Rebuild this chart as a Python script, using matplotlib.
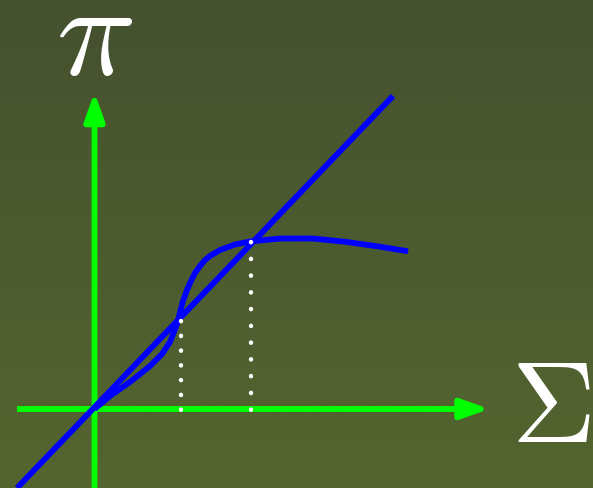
import matplotlib
matplotlib.use("Agg")
import matplotlib.pyplot as plt
from matplotlib.colors import LinearSegmentedColormap
import numpy as np

plt.rcParams["mathtext.fontset"] = "cm"

# straight line (y ~ x) through the origin
line_x = [-0.775, 2.985]
line_y = [-0.79, 3.13]

# the S-shaped curve
curve_x = [0, 0.155, 0.355, 0.555, 0.675, 0.755, 0.825, 0.885, 0.925, 0.955,
           1.005, 1.055, 1.105, 1.155, 1.255, 1.405, 1.555, 1.855, 2.185,
           2.525, 2.855, 3.135]
curve_y = [0, 0.13, 0.27, 0.43, 0.55, 0.67, 0.85, 1.08, 1.19, 1.26,
           1.36, 1.43, 1.49, 1.53, 1.59, 1.645, 1.675, 1.705, 1.705,
           1.67, 1.623, 1.577]

# where the two cross (dotted drops to the x axis)
cross_x = [0.865, 1.565]
cross_y = [0.885, 1.675]
dot_gap = [3.27, 3.72]

x_label = r"$\Sigma$"
y_label = r"$\pi$"

fig = plt.figure(figsize=(5.93, 4.89), dpi=100)
ax = fig.add_axes([0, 0, 1, 1])
ax.set_xlim(-0.945, 4.985)
ax.set_ylim(-0.79, 4.10)
ax.axis("off")

# background gradient
bg = LinearSegmentedColormap.from_list("bg", ["#54652f", "#45512f"])
grad = np.linspace(0, 1, 256).reshape(-1, 1)
ax.imshow(grad, cmap=bg, origin="lower", aspect="auto",
          extent=[-0.945, 4.985, -0.79, 4.10], zorder=0)

# axes with arrows
arrow = dict(arrowstyle="-|>,head_length=0.85,head_width=0.3", color="#00ff00",
             lw=4.2, shrinkA=0, shrinkB=0, mutation_scale=20, capstyle="butt")
ax.annotate("", xy=(3.95, 0), xytext=(-0.775, 0), arrowprops=arrow, zorder=2)
ax.annotate("", xy=(0, 3.17), xytext=(0, -0.8), arrowprops=arrow, zorder=2)

ax.plot(line_x, line_y, color="#0000ff", lw=4.2, solid_capstyle="butt", zorder=4)
ax.plot(curve_x, curve_y, color="#0000ff", lw=4.2, solid_capstyle="butt",
        solid_joinstyle="round", zorder=4)

# dotted drops, drawn top-down and above the blue lines
for cx, cy, gap in zip(cross_x, cross_y, dot_gap):
    ax.plot([cx, cx], [cy, -0.03], color="white", lw=3.2,
            linestyle=(0, (0.05, gap)), dash_capstyle="round", zorder=5)

ax.text(0.0, 3.72, y_label, color="white", fontsize=95, ha="center", va="center")
ax.text(4.56, 0.0, x_label, color="white", fontsize=84, ha="center", va="center")

fig.savefig("out.png", dpi=100)
